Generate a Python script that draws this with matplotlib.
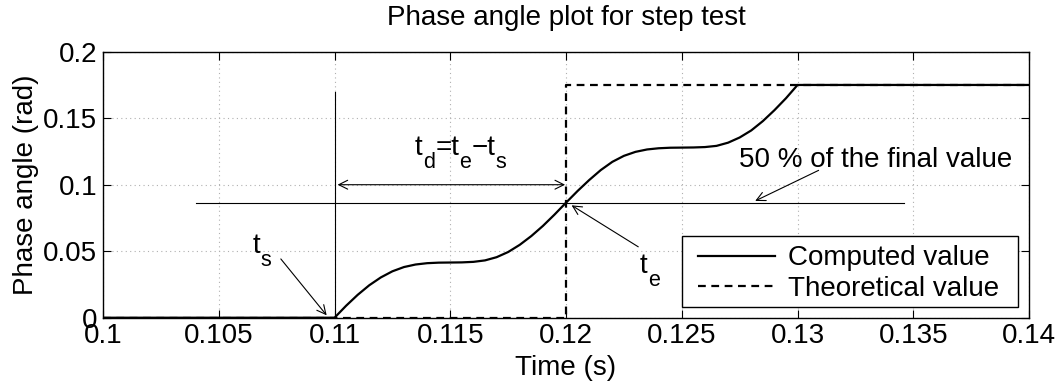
import matplotlib
matplotlib.use("Agg")
import matplotlib.pyplot as plt
from matplotlib.patches import Rectangle

plt.rcParams['font.family'] = ['Liberation Sans', 'DejaVu Sans']

# ---- data ----
t_computed = [0.100, 0.110, 0.1105, 0.1110, 0.1115, 0.1120, 0.1125, 0.1130, 0.1135,
              0.1140, 0.1145, 0.1150, 0.1155, 0.1160, 0.1165, 0.1170, 0.1175, 0.1180,
              0.1185, 0.1190, 0.1195, 0.1200, 0.1205, 0.1210, 0.1215, 0.1220, 0.1225,
              0.1230, 0.1235, 0.1240, 0.1245, 0.1250, 0.1255, 0.1260, 0.1265, 0.1270,
              0.1275, 0.1280, 0.1285, 0.1290, 0.1295, 0.1300, 0.1400]
phase_computed = [0.0, 0.0, 0.0090, 0.0172, 0.0244, 0.0303, 0.0349, 0.0381, 0.0400,
                  0.0410, 0.0414, 0.0415, 0.0416, 0.0420, 0.0431, 0.0455, 0.0494, 0.0548,
                  0.0614, 0.0690, 0.0775, 0.0865, 0.0953, 0.1035, 0.1110, 0.1172, 0.1217,
                  0.1247, 0.1265, 0.1274, 0.1278, 0.1279, 0.1280, 0.1283, 0.1292, 0.1316,
                  0.1355, 0.1408, 0.1478, 0.1560, 0.1650, 0.1750, 0.1750]

t_theoretical = [0.100, 0.120, 0.120, 0.140]
phase_theoretical = [0.0, 0.0, 0.1750, 0.1750]

half_line_x = [0.1040, 0.1346]
half_line_y = 0.0866
start_line_x = 0.110
start_line_y = [0.0, 0.170]

x_ticks = [0.1, 0.105, 0.11, 0.115, 0.12, 0.125, 0.13, 0.135, 0.14]
x_ticklabels = ['0.1', '0.105', '0.11', '0.115', '0.12', '0.125', '0.13', '0.135', '0.14']
y_ticks = [0, 0.05, 0.1, 0.15, 0.2]
y_ticklabels = ['0', '0.05', '0.1', '0.15', '0.2']

FS = 20        # main text size
FS_SUB = 15.5  # subscript size
SUB_OFF = -8.5 # subscript vertical offset (points)

fig = plt.figure(figsize=(10.6, 3.81), dpi=100)
ax = fig.add_axes([0.0972, 0.1661, 0.8736, 0.6982])

ax.plot(t_computed, phase_computed, color='black', lw=1.6, label='Computed value', zorder=3)
ax.plot(t_theoretical, phase_theoretical, color='black', lw=1.6, ls=(0, (3.5, 2.5)),
        label='Theoretical value', zorder=3)

# helper lines
ax.plot([start_line_x, start_line_x], start_line_y, color='black', lw=0.8, zorder=2)
ax.plot(half_line_x, [half_line_y, half_line_y], color='black', lw=0.8, zorder=2)

ax.set_xlim(0.1, 0.14)
ax.set_ylim(0, 0.2)
ax.set_xticks(x_ticks)
ax.set_xticklabels(x_ticklabels)
ax.set_yticks(y_ticks)
ax.set_yticklabels(y_ticklabels)
ax.tick_params(direction='in', length=6, width=0.8, labelsize=FS, top=True, right=True, pad=4)
ax.grid(True, color='#b0b0b0', ls=(0, (1, 3)), lw=0.8)
for s in ax.spines.values():
    s.set_linewidth(1.0)

ax.set_xlabel('Time (s)', fontsize=FS, labelpad=4)
ax.set_ylabel('Phase angle (rad)', fontsize=FS, labelpad=3)
ax.set_title('Phase angle plot for step test', fontsize=FS, pad=19)


def sub_text(x, y, parts):
    """Draw text pieces [(str, is_subscript), ...] starting at data (x, y) baseline."""
    first = ax.text(x, y, parts[0][0], fontsize=FS, ha='left', va='baseline')
    prev = first
    for s, is_sub in parts[1:]:
        prev = ax.annotate(s, xy=(1, 0), xycoords=(prev, first),
                           xytext=(0.3 if is_sub else 0, SUB_OFF if is_sub else 0),
                           textcoords='offset points',
                           fontsize=FS_SUB if is_sub else FS, ha='left', va='bottom')
    return first


arrow_kw = dict(arrowstyle='->', color='black', lw=0.8, mutation_scale=16,
                shrinkA=0, shrinkB=0)

# t_d double arrow and label
ax.annotate('', xy=(0.11996, 0.1), xytext=(0.11013, 0.1),
            arrowprops=dict(arrowstyle='<->', color='black', lw=0.8, mutation_scale=16,
                            shrinkA=0, shrinkB=0))
sub_text(0.11348, 0.1220, [('t', False), ('d', True), ('=t', False), ('e', True),
                           ('\u2212t', False), ('s', True)])

# t_s
ax.annotate('', xy=(0.10966, 0.0018), xytext=(0.10768, 0.0442), arrowprops=arrow_kw)
sub_text(0.10645, 0.0487, [('t', False), ('s', True)])

# t_e
ax.annotate('', xy=(0.12024, 0.0845), xytext=(0.12312, 0.0533), arrowprops=arrow_kw)
sub_text(0.12319, 0.0333, [('t', False), ('e', True)])

# 50 % label
ax.annotate('', xy=(0.12817, 0.0878), xytext=(0.13091, 0.1108), arrowprops=arrow_kw)
ax.text(0.12749, 0.1133, '50 % of the final value', fontsize=FS, ha='left', va='baseline')

# legend box drawn explicitly, legend entries inside it
ax.add_patch(Rectangle((0.625, 0.039), 0.3628, 0.268, transform=ax.transAxes,
                       facecolor='white', edgecolor='black', lw=1.0, zorder=4.5))
leg = ax.legend(loc='upper left', bbox_to_anchor=(0.6429, 0.272), fontsize=FS,
                frameon=False, handlelength=2.75, handletextpad=0.47,
                labelspacing=0.16, borderpad=0, borderaxespad=0)
leg.set_zorder(5)

fig.savefig('out.png', dpi=100)
